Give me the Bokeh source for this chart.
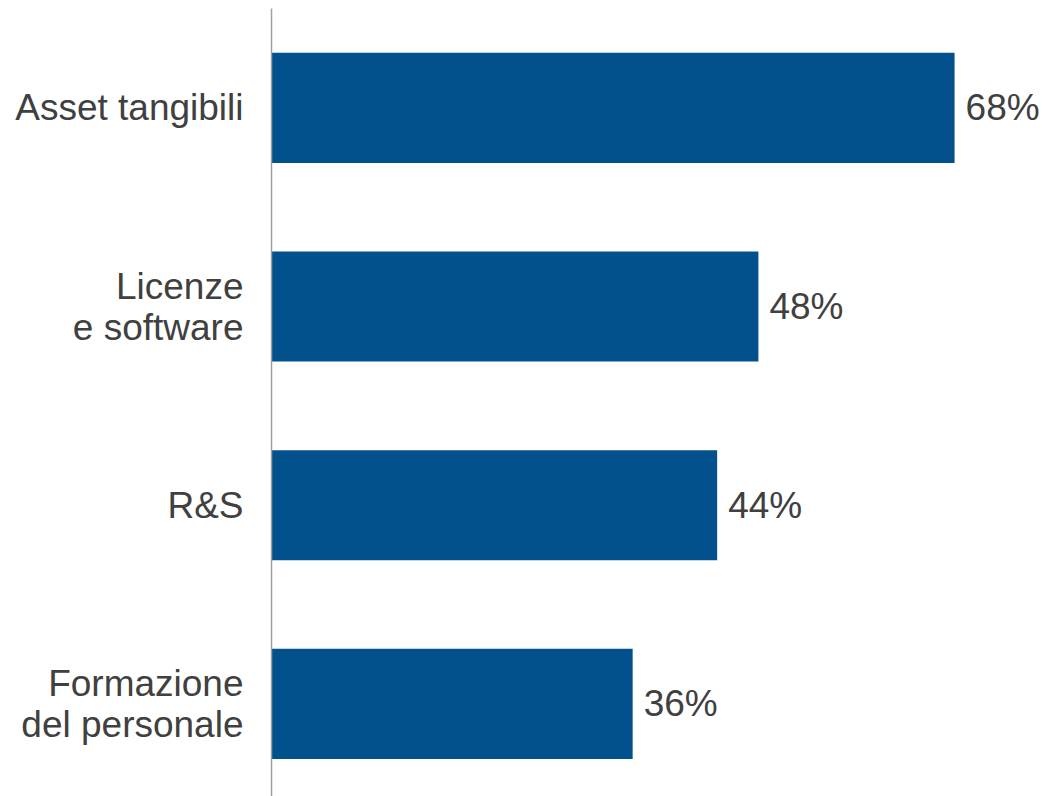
from bokeh.plotting import figure
from bokeh.models import Range1d, FixedTicker, ColumnDataSource
from bokeh.core.properties import value
from bokeh.embed import file_html
from bokeh.resources import INLINE

categories = ["Asset tangibili", "Licenze\ne software", "R&S", "Formazione\ndel personale"]
values = [67.9, 48.4, 44.3, 35.9]
value_labels = ["68%", "48%", "44%", "36%"]

positions = list(range(len(categories)))
src = ColumnDataSource(dict(y=positions, v=values, lab=value_labels))

BAR = "#02518c"
TXT = "#404040"
FONT = "Liberation Sans"

p = figure(width=1042, height=796, output_backend="svg", toolbar_location=None,
           x_range=Range1d(0, 76.64), y_range=Range1d(3.466, -0.5),
           min_border_left=271, min_border_right=0, min_border_top=8, min_border_bottom=0)
p.outline_line_color = None
p.xgrid.visible = False
p.ygrid.visible = False
p.xaxis.visible = False
p.background_fill_color = "white"
p.border_fill_color = "white"

p.hbar(y="y", right="v", left=0, height=0.554, source=src, fill_color=BAR, line_color=None)
p.text(x="v", y="y", text="lab", source=src, x_offset=11, text_align="left",
       text_baseline="middle", text_font=value(FONT), text_font_size="37px", text_color=TXT)

ax = p.yaxis[0]
ax.ticker = FixedTicker(ticks=positions)
ax.major_label_overrides = {i: c for i, c in zip(positions, categories)}
ax.major_tick_line_color = None
ax.minor_tick_line_color = None
ax.axis_line_color = "#a0a0a0"
ax.axis_line_width = 1.5
ax.major_label_standoff = 22
ax.major_label_text_font = FONT
ax.major_label_text_font_size = "37px"
ax.major_label_text_color = TXT
ax.major_label_text_line_height = 1.0

open("out.html", "w").write(file_html(p, INLINE))
